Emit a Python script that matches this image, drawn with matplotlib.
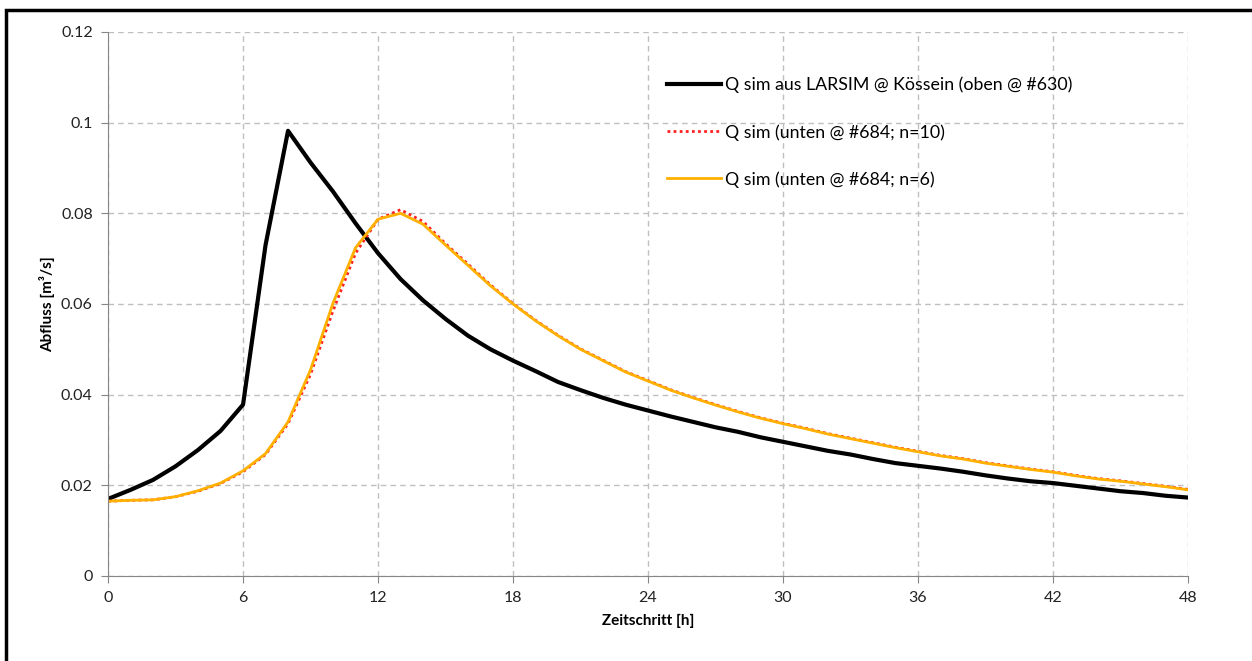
"""Abfluss-Ganglinie: Q sim oben (LARSIM, Kössein) gegen Q sim unten (#684) für n=10 und n=6."""
import numpy as np
import matplotlib
matplotlib.use("Agg")
import matplotlib.pyplot as plt
from matplotlib.patches import Rectangle

plt.rcParams["font.family"] = ["Lato", "DejaVu Sans"]

zeit = np.arange(0, 49)

q_oben = [0.0170, 0.0190, 0.0212, 0.0242, 0.0278, 0.0320, 0.0378, 0.0730, 0.0982,
          0.0912, 0.0848, 0.0778, 0.0712, 0.0655, 0.0608, 0.0567, 0.0530, 0.0500,
          0.0475, 0.0452, 0.0428, 0.0410, 0.0393, 0.0378, 0.0365, 0.0352, 0.0340,
          0.0328, 0.0318, 0.0306, 0.0296, 0.0286, 0.0276, 0.0268, 0.0258, 0.0249,
          0.0243, 0.0237, 0.0230, 0.0222, 0.0215, 0.0209, 0.0205, 0.0199, 0.0193,
          0.0187, 0.0183, 0.0177, 0.0173]

q_unten_n10 = [0.0165, 0.0167, 0.0168, 0.0175, 0.0187, 0.0204, 0.0230, 0.0268, 0.0336,
               0.0445, 0.0585, 0.0712, 0.0787, 0.0808, 0.0782, 0.0733, 0.0688, 0.0642,
               0.0601, 0.0564, 0.0531, 0.0501, 0.0476, 0.0451, 0.0431, 0.0411, 0.0394,
               0.0378, 0.0363, 0.0349, 0.0337, 0.0326, 0.0314, 0.0304, 0.0294, 0.0284,
               0.0275, 0.0266, 0.0259, 0.0250, 0.0243, 0.0236, 0.0230, 0.0222, 0.0215,
               0.0210, 0.0204, 0.0198, 0.0191]

q_unten_n6 = [0.0165, 0.0167, 0.0168, 0.0175, 0.0188, 0.0205, 0.0232, 0.0270, 0.0340,
              0.0455, 0.0602, 0.0724, 0.0787, 0.0800, 0.0776, 0.0730, 0.0685, 0.0640,
              0.0600, 0.0563, 0.0530, 0.0500, 0.0475, 0.0450, 0.0430, 0.0410, 0.0393,
              0.0377, 0.0362, 0.0348, 0.0336, 0.0325, 0.0313, 0.0303, 0.0293, 0.0283,
              0.0274, 0.0265, 0.0258, 0.0249, 0.0242, 0.0235, 0.0229, 0.0221, 0.0214,
              0.0209, 0.0203, 0.0197, 0.0190]

x_ticks = np.arange(0, 49, 6)
y_ticks = [0, 0.02, 0.04, 0.06, 0.08, 0.1, 0.12]
y_labels = ["0", "0.02", "0.04", "0.06", "0.08", "0.1", "0.12"]

fig = plt.figure(figsize=(12.52, 6.61), dpi=100)
ax = fig.add_axes([0.0863, 0.1286, 0.8626, 0.823])

ax.plot(zeit, q_oben, color="black", lw=3.0, label="Q sim aus LARSIM @ Kössein (oben @ #630)")
ax.plot(zeit, q_unten_n10, color="#ff2020", lw=2.0, ls=(0, (1, 1.2)),
        label="Q sim (unten @ #684; n=10)")
ax.plot(zeit, q_unten_n6, color="#ffb000", lw=2.0, label="Q sim (unten @ #684; n=6)")

ax.set_xlim(0, 48)
ax.set_ylim(0, 0.12)
ax.set_xticks(x_ticks)
ax.set_yticks(y_ticks)
ax.set_yticklabels(y_labels)
ax.grid(True, color="#bfbfbf", ls=(0, (4, 3)), lw=1.0)
for s in ("top", "right"):
    ax.spines[s].set_visible(False)
for s in ("left", "bottom"):
    ax.spines[s].set_color("#868686")
ax.tick_params(colors="#868686", labelcolor="#222222", labelsize=11.5, length=5, pad=6)

ax.set_xlabel("Zeitschritt [h]", fontsize=11, fontweight="bold", labelpad=6)
ax.set_ylabel("Abfluss [m³/s]", fontsize=11, fontweight="bold", labelpad=4)

leg = ax.legend(loc="upper left", bbox_to_anchor=(0.503, 0.947), frameon=False,
                fontsize=12.8, handlelength=3.0, handletextpad=0.25, labelspacing=1.72)

# Rahmen des Diagramms (rechts und unten abgeschnitten)
fig.patches.append(Rectangle((0.005, -0.1), 1.2, 1.085, transform=fig.transFigure,
                             fill=False, edgecolor="black", lw=2.5))

fig.savefig("out.png", dpi=100)
